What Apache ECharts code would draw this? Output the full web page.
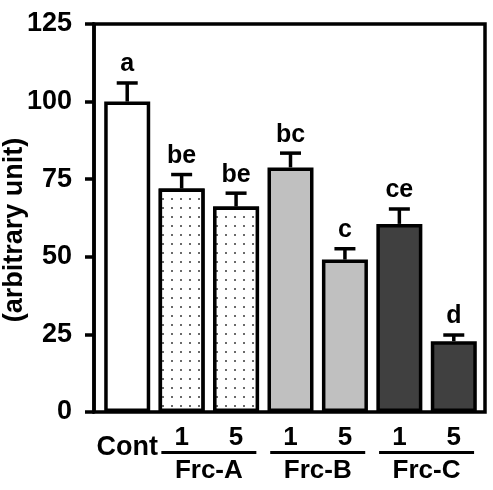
<!DOCTYPE html>
<html>
<head>
<meta charset="utf-8">
<script src="https://cdn.jsdelivr.net/npm/echarts@6/dist/echarts.min.js"></script>
<style>
  html, body { margin: 0; padding: 0; background: #fff; }
  #chart { width: 493px; height: 490px; }
</style>
</head>
<body>
<div id="chart"></div>
<script>
const categories = ['Cont', '1', '5', '1', '5', '1', '5'];
const groupNames = ['Frc-A', 'Frc-B', 'Frc-C'];
const means = [100, 72.0, 66.2, 78.8, 49.1, 60.6, 22.8];
const errors = [6.0, 4.5, 4.3, 4.6, 3.5, 4.8, 2.0];
const letters = ['a', 'be', 'be', 'bc', 'c', 'ce', 'd'];
const yTicks = [0, 25, 50, 75, 100, 125];

const fills = ['#ffffff', '#ffffff', '#ffffff', '#c0c0c0', '#c0c0c0', '#404040', '#404040'];
const dotted = [false, true, true, false, false, false, false];
const FONT = "'Liberation Sans', Arial, sans-serif";

const chart = echarts.init(document.getElementById('chart'));

const dotDecal = {
  symbol: 'rect',
  symbolSize: 1,
  color: '#6a6a6a',
  backgroundColor: '#ffffff',
  dashArrayX: [1.5, 6.5],
  dashArrayY: [1.5, 6.5]
};

const barData = means.map((v, i) => ({
  value: v,
  itemStyle: Object.assign(
    { color: fills[i], borderColor: '#000', borderWidth: 3.5 },
    dotted[i] ? { decal: dotDecal } : {}
  )
}));

const errData = means.map((v, i) => [i, v, errors[i]]);

const option = {
  animation: false,
  grid: [
    { left: 94, right: 8, top: 24, bottom: 78, outerBoundsMode: 'none', containLabel: false, show: true, borderColor: '#000', borderWidth: 3.5, backgroundColor: 'transparent' },
    { left: 100, right: 12, top: 24, bottom: 78, outerBoundsMode: 'none', containLabel: false }
  ],
  xAxis: [
    { gridIndex: 0, type: 'value', show: false },
    {
      gridIndex: 1, type: 'category', data: categories,
      axisLine: { show: false }, axisTick: { show: false },
      axisLabel: {
        interval: 0, hideOverlap: false,
        margin: 13, color: '#000', fontFamily: FONT, fontWeight: 'bold', fontSize: 26,
        formatter: v => v === 'Cont' ? '{c|Cont}' : v,
        rich: { c: { fontFamily: FONT, fontWeight: 'bold', fontSize: 27, color: '#000', padding: [9, 0, 0, 0] } }
      }
    },
    {
      gridIndex: 1, type: 'value', min: -0.5, max: 6.5, interval: 2, position: 'bottom',
      axisLine: { show: false }, axisTick: { show: false }, splitLine: { show: false },
      axisLabel: {
        margin: 39,
        formatter: v => {
          const k = Math.round((v - 1.5) / 2);
          if (k < 0 || k > 2) return '';
          return '{l| }\n{n|' + groupNames[k] + '}';
        },
        rich: {
          l: { width: 95, height: 3, lineHeight: 3, fontSize: 1, backgroundColor: '#000' },
          n: { fontFamily: FONT, fontWeight: 'bold', fontSize: 26, color: '#000', lineHeight: 30, padding: [3, 0, 0, 0] }
        }
      }
    }
  ],
  yAxis: [
    {
      gridIndex: 0, type: 'value', min: 0, max: 125, interval: 25,
      axisLine: { show: true, lineStyle: { color: '#000', width: 3.5 } },
      axisTick: { show: true, length: 9, lineStyle: { color: '#000', width: 3.5 } },
      splitLine: { show: false },
      axisLabel: {
        margin: 22, color: '#000', fontFamily: FONT, fontWeight: 'bold', fontSize: 27,
        formatter: v => yTicks.indexOf(v) >= 0 ? String(v) : ''
      },
      name: '(arbitrary unit)', nameLocation: 'middle', nameGap: 66, nameRotate: 90,
      nameMoveOverlap: false,
      nameTextStyle: { color: '#000', fontFamily: FONT, fontWeight: 'bold', fontSize: 27, padding: [0, 24, 0, 0] }
    },
    { gridIndex: 1, type: 'value', min: 0, max: 125, interval: 25, show: false }
  ],
  series: [
    {
      type: 'bar', xAxisIndex: 1, yAxisIndex: 1, data: barData, barWidth: 46, z: 2
    },
    {
      type: 'custom', xAxisIndex: 1, yAxisIndex: 1, data: errData, z: 3,
      renderItem: (params, api) => {
        const x = api.value(0);
        const m = api.value(1);
        const e = api.value(2);
        const base = api.coord([x, m]);
        const top = api.coord([x, m + e]);
        const capHalf = 10.5;
        return {
          type: 'group',
          children: [
            { type: 'line', shape: { x1: base[0], y1: base[1], x2: top[0], y2: top[1] }, style: { stroke: '#000', lineWidth: 3.5 } },
            { type: 'line', shape: { x1: top[0] - capHalf, y1: top[1], x2: top[0] + capHalf, y2: top[1] }, style: { stroke: '#000', lineWidth: 3.5 } },
            {
              type: 'text', x: top[0], y: top[1] - 6,
              style: { text: letters[params.dataIndex], fontFamily: FONT, fontWeight: 'bold', fontSize: 25, fill: '#000', align: 'center', verticalAlign: 'bottom' }
            }
          ]
        };
      }
    }
  ]
};

chart.setOption(option);
</script>
</body>
</html>
